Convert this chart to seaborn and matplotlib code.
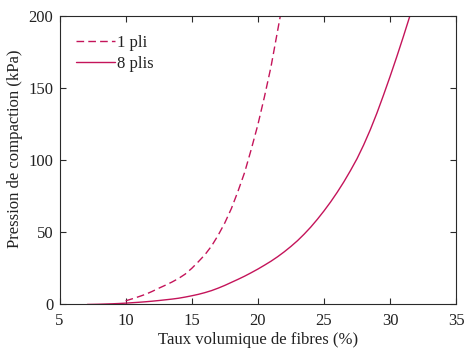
import numpy as np
import pandas as pd
import matplotlib
matplotlib.use("Agg")
import matplotlib.pyplot as plt
import seaborn as sns

# Données
x_1pli = [10, 10.5, 11, 11.5, 12, 12.5, 13, 13.5, 14, 14.5, 15, 15.5, 16,
          16.5, 17, 17.5, 18, 18.5, 19, 19.5, 20, 20.5, 21, 21.5, 21.7]
p_1pli = [2.5, 3.9, 5.4, 7.0, 9.0, 11.2, 13.3, 15.5, 18.0, 21.0, 25.0, 29.6,
          34.5, 40.5, 48, 56.5, 66.5, 78.5, 91.5, 107.5, 124.5, 144, 165,
          190, 200]

x_8plis = [7.1, 7.5, 8, 8.5, 9, 9.5, 10, 10.5, 11, 11.5, 12, 12.5, 13, 13.5,
           14, 14.5, 15, 15.5, 16, 16.5, 17, 17.5, 18, 18.5, 19, 19.5, 20,
           20.5, 21, 21.5, 22, 22.5, 23, 23.5, 24, 24.5, 25, 25.5, 26, 26.5,
           27, 27.5, 28, 28.5, 29, 29.5, 30, 30.5, 31, 31.5]
p_8plis = [0, 0.05, 0.15, 0.3, 0.45, 0.65, 0.9, 1.2, 1.5, 1.85, 2.25, 2.7,
           3.2, 3.7, 4.3, 5.1, 6.0, 7.0, 8.2, 9.6, 11.3, 13.2, 15.3, 17.4,
           19.6, 22.0, 24.5, 27.2, 30.0, 33.1, 36.5, 40.2, 44.2, 48.7, 53.6,
           59.0, 64.8, 71.0, 77.7, 84.9, 92.7, 101.0, 110.5, 121.0, 132.5,
           145, 158, 171.5, 185.5, 200]

noms = ["1 pli", "8 plis"]
couleur = "#c4145a"

df = pd.concat([
    pd.DataFrame({"taux": x_1pli, "pression": p_1pli, "serie": noms[0]}),
    pd.DataFrame({"taux": x_8plis, "pression": p_8plis, "serie": noms[1]}),
])

sns.set_theme(style="white")
plt.rcParams["font.family"] = ["Liberation Serif", "DejaVu Serif"]
plt.rcParams["font.size"] = 12

fig = plt.figure(figsize=(4.65, 3.54), dpi=100)
ax = fig.add_axes([0.128, 0.14, 0.853, 0.815])

sns.lineplot(data=df, x="taux", y="pression", style="serie",
             style_order=noms, dashes={noms[0]: (5.5, 3), noms[1]: ""},
             color=couleur, linewidth=1.0, ax=ax, sort=False)

ax.set_xlim(5, 35)
ax.set_ylim(0, 200)
ax.set_xticks([5, 10, 15, 20, 25, 30, 35])
ax.set_yticks([0, 50, 100, 150, 200])
ax.set_xlabel("Taux volumique de fibres (%)", fontsize=12, color="#222222", labelpad=2)
ax.set_ylabel("Pression de compaction (kPa)", fontsize=12, color="#222222")
ax.yaxis.set_label_coords(-0.092, 0.54)

for s in ax.spines.values():
    s.set_visible(True)
    s.set_color("#2a2a2a")
    s.set_linewidth(0.8)
ax.tick_params(direction="in", length=4, width=0.8, color="#2a2a2a",
               labelsize=12, labelcolor="#222222", top=True, right=True,
               bottom=True, left=True)
ax.tick_params(axis="x", pad=6.5)
ax.tick_params(axis="y", pad=4.5)

leg = ax.legend(loc="upper left", frameon=False, fontsize=12,
                handlelength=2.35, handletextpad=0.1, labelspacing=0.3,
                borderaxespad=0, borderpad=0, bbox_to_anchor=(0.041, 0.933))
for t in leg.get_texts():
    t.set_color("#222222")

fig.savefig("out.png", dpi=100)
